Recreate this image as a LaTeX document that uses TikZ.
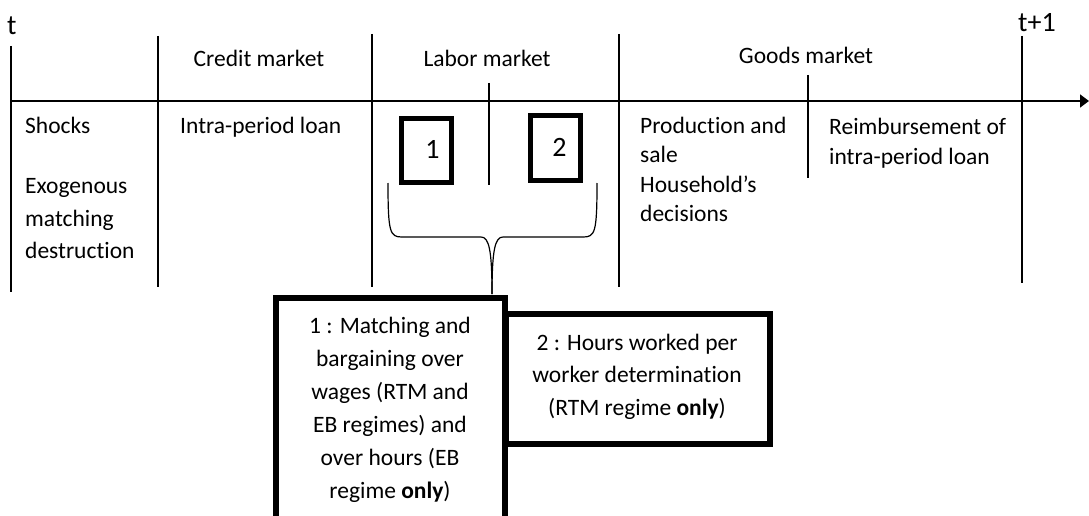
\documentclass[tikz,border=0pt]{standalone}
\usepackage{fontspec}
\setmainfont{Carlito}[Ligatures=NoCommon]
\usetikzlibrary{arrows.meta}
\newcommand\mlines[2]{\begin{tabular}[t]{@{}#1@{}}#2\end{tabular}}
\begin{document}
\begin{tikzpicture}[x=1pt,y=-1pt,
  rule/.style={line width=1.7pt},
  bracepath/.style={line width=1.2pt},
  smallbox/.style={draw, line width=5pt, minimum width=50pt, minimum height=64pt, inner sep=0pt},
  bigbox/.style={draw, line width=5.5pt, fill=white, inner sep=0pt},
  lbl/.style={inner sep=0pt, font=\fontsize{23.5}{33}\selectfont},
  lblb/.style={inner sep=0pt, font=\fontsize{23.5}{29.5}\selectfont},
  biglbl/.style={inner sep=0pt, font=\fontsize{28}{33}\selectfont},
]
\useasboundingbox (0,0) rectangle (1089,516);

% time axis and separators
\coordinate (axstart) at (10,101);
\coordinate (axend) at (1089,101);
\draw[rule,-{Triangle[length=9pt,width=13pt]}] (axstart) -- (axend);
\draw[rule] (11,46) -- (11,292);
\draw[rule] (158,36) -- (158,287);
\draw[rule] (372,34) -- (372,287);
\draw[rule] (489,83) -- (489,185);
\draw[rule] (619,34) -- (619,287);
\draw[rule] (808,75) -- (808,178);
\draw[rule] (1022,36) -- (1022,283);

% time labels
\node[biglbl, anchor=base west] (t) at (7,35) {t};
\node[biglbl, anchor=base west] (t1) at (1018,32) {t+1};

% market headers
\node[lbl, anchor=base] (credit) at (259,67) {Credit market};
\node[lbl, anchor=base] (labor) at (487,67) {Labor market};
\node[lbl, anchor=base] (goods) at (806,64) {Goods market};

% column contents
\node[lbl, anchor=base west] (shocks) at (25,133) {Shocks};
\node[lbl, anchor=base west] (exo) at (25,193) {\mlines{l}{Exogenous\\matching\\destruction}};
\node[lbl, anchor=base west] (loan) at (180,133) {Intra-period loan};
\node[lblb, anchor=base west] (prod) at (640,133) {\mlines{l}{Production and\\sale\\Household’s\\decisions}};
\node[lblb, anchor=base west] (reimb) at (829,135) {\mlines{l}{Reimbursement of\\intra-period loan}};

% small boxes
\node[smallbox] (sb1) at (426.5,150.5) {};
\node[biglbl, anchor=base] (one) at (432.5,158) {1};
\node[smallbox] (sb2) at (555.5,148) {};
\node[biglbl, anchor=base] (two) at (559.5,157) {2};

% brace
\coordinate (tip) at (492,294);
\draw[bracepath] (388,183) .. controls (388,233) and (390,237) .. (402,237)
  -- (481,237) .. controls (489,237) and (492,250) .. (tip);
\draw[bracepath] (597,183) .. controls (597,233) and (595,237) .. (583,237)
  -- (503,237) .. controls (495,237) and (492,250) .. (tip);

% big box 1 (extends below the picture)
\draw[line width=6pt] (276,520) -- (276,298) -- (505,298) -- (505,520);
\node[lbl, anchor=base] (desc1) at (390,333) {\mlines{c}{1 : Matching and\\bargaining over\\wages (RTM and\\EB regimes) and\\over hours (EB\\regime \textbf{only})}};

% big box 2
\node[bigbox, minimum width=264pt, minimum height=130pt] (bb2) at (638,379) {};
\node[lbl, anchor=base, font=\fontsize{23.5}{32.5}\selectfont] (desc2) at (637,350) {\mlines{c}{2 : Hours worked per\\worker determination\\(RTM regime \textbf{only})}};
\end{tikzpicture}
\end{document}
